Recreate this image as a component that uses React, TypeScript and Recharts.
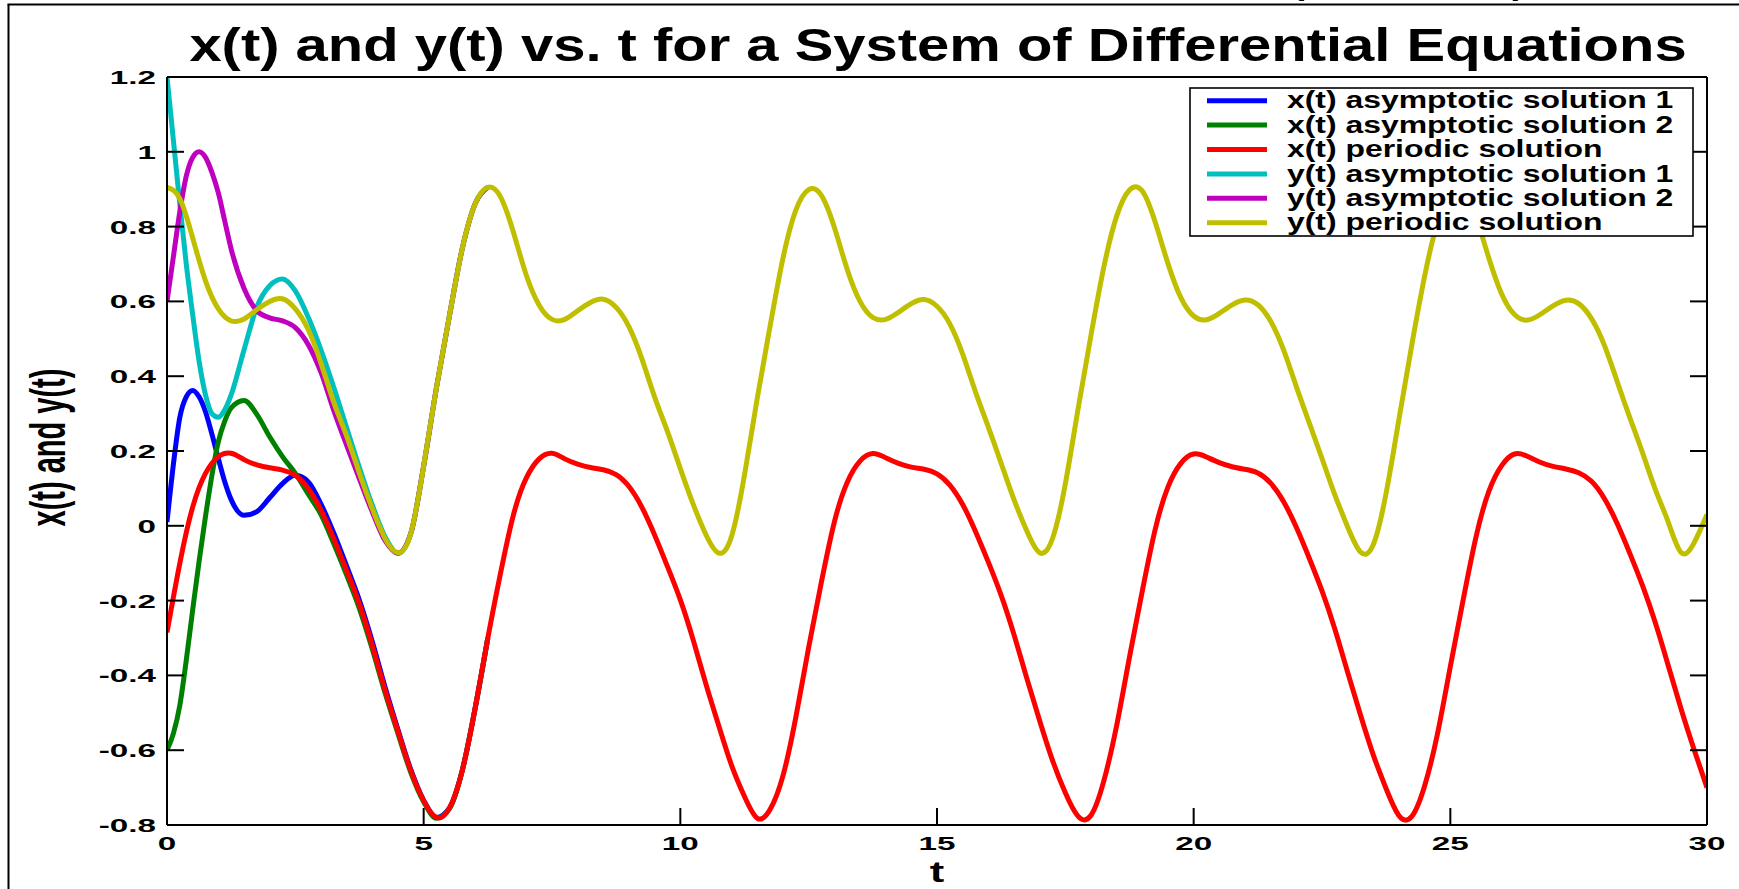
import React from 'react';
import { LineChart, Line, XAxis, YAxis, Legend } from 'recharts';

// ---------- data ----------
const T_PERIODIC = [
  0, 0.25, 0.5, 0.75, 1, 1.25, 1.5, 1.75, 2, 2.25, 2.5, 2.75, 3, 3.25, 3.5, 3.75, 4, 4.25, 4.5, 4.75, 5, 5.25, 5.5, 5.75, 6, 6.25,
  6.5, 6.75, 7, 7.25, 7.5, 7.75, 8, 8.25, 8.5, 8.75, 9, 9.25, 9.5, 9.75, 10, 10.25, 10.5, 10.75, 11, 11.25, 11.5, 11.75, 12, 12.25, 12.5,
  12.75, 13, 13.25, 13.5, 13.75, 14, 14.25, 14.5, 14.75, 15, 15.25, 15.5, 15.75, 16, 16.25, 16.5, 16.75, 17, 17.25, 17.5, 17.75, 18, 18.25, 18.5, 18.75,
  19, 19.25, 19.5, 19.75, 20, 20.25, 20.5, 20.75, 21, 21.25, 21.5, 21.75, 22, 22.25, 22.5, 22.75, 23, 23.25, 23.5, 23.75, 24, 24.25, 24.5, 24.75, 25,
  25.25, 25.5, 25.75, 26, 26.25, 26.5, 26.75, 27, 27.25, 27.5, 27.75, 28, 28.25, 28.5, 28.75, 29, 29.25, 29.5, 29.75, 30,
];

const X_PERIODIC = [
  -0.285, -0.1, 0.05, 0.14, 0.185, 0.194, 0.177, 0.163, 0.155, 0.149, 0.135, 0.1, 0.042, -0.035, -0.12, -0.21, -0.32, -0.44, -0.55, -0.655, -0.735, -0.78, -0.755, -0.655, -0.49, -0.3,
  -0.125, 0.03, 0.128, 0.179, 0.194, 0.179, 0.165, 0.156, 0.15, 0.137, 0.105, 0.05, -0.025, -0.109, -0.198, -0.305, -0.424, -0.535, -0.641, -0.724, -0.782, -0.758, -0.668, -0.512, -0.325,
  -0.149, 0.01, 0.116, 0.173, 0.193, 0.182, 0.167, 0.157, 0.151, 0.139, 0.109, 0.057, -0.015, -0.097, -0.186, -0.291, -0.408, -0.521, -0.627, -0.714, -0.777, -0.774, -0.682, -0.534, -0.351,
  -0.174, -0.01, 0.104, 0.167, 0.192, 0.184, 0.169, 0.158, 0.151, 0.141, 0.114, 0.065, -0.004, -0.086, -0.174, -0.276, -0.392, -0.506, -0.613, -0.703, -0.775, -0.777, -0.695, -0.556, -0.376,
  -0.198, -0.03, 0.092, 0.161, 0.192, 0.186, 0.17, 0.159, 0.152, 0.142, 0.119, 0.073, 0.006, -0.075, -0.162, -0.262, -0.376, -0.492, -0.599, -0.7,
];

const Y_PERIODIC = [
  0.905, 0.875, 0.77, 0.655, 0.58, 0.548, 0.553, 0.578, 0.6, 0.607, 0.58, 0.525, 0.435, 0.33, 0.24, 0.14, 0.045, -0.035, -0.072, -0.02, 0.16, 0.37, 0.56, 0.74, 0.86, 0.905,
  0.879, 0.784, 0.67, 0.59, 0.552, 0.552, 0.575, 0.597, 0.606, 0.584, 0.532, 0.447, 0.344, 0.252, 0.153, 0.058, -0.024, -0.073, -0.027, 0.136, 0.342, 0.535, 0.716, 0.844, 0.899,
  0.883, 0.798, 0.686, 0.6, 0.557, 0.552, 0.571, 0.594, 0.605, 0.587, 0.54, 0.459, 0.358, 0.264, 0.167, 0.07, -0.014, -0.072, -0.034, 0.112, 0.314, 0.51, 0.692, 0.828, 0.898,
  0.895, 0.812, 0.701, 0.61, 0.561, 0.551, 0.568, 0.591, 0.604, 0.591, 0.547, 0.471, 0.372, 0.276, 0.18, 0.083, -0.003, -0.07, -0.05, 0.088, 0.286, 0.484, 0.668, 0.812, 0.893,
  0.898, 0.826, 0.716, 0.62, 0.565, 0.55, 0.565, 0.588, 0.603, 0.594, 0.554, 0.483, 0.386, 0.288, 0.193, 0.095, 0.008, -0.072, -0.045, 0.03,
];

const T_ASYM = [
  0, 0.125, 0.25, 0.375, 0.5, 0.625, 0.75, 0.875, 1, 1.125, 1.25, 1.5, 1.75, 2, 2.25, 2.5, 2.75, 3, 3.25, 3.5, 3.75, 4, 4.25, 4.5, 4.75, 5, 5.25, 5.5, 5.75, 6, 6.25,
];

const X_ASYM_1 = [
  0.01, 0.165, 0.29, 0.345, 0.362, 0.345, 0.305, 0.245, 0.18, 0.118, 0.07, 0.028, 0.038, 0.075, 0.113, 0.135, 0.118, 0.058, -0.02, -0.108, -0.2, -0.31, -0.432, -0.545, -0.652, -0.734, -0.78, -0.755, -0.655, -0.49, -0.3,
];

const X_ASYM_2 = [
  -0.6, -0.555, -0.48, -0.36, -0.225, -0.095, 0.025, 0.135, 0.225, 0.28, 0.315, 0.335, 0.298, 0.238, 0.185, 0.14, 0.085, 0.03, -0.048, -0.132, -0.222, -0.33, -0.448, -0.556, -0.66, -0.738, -0.782, -0.757, -0.656, -0.49, -0.3,
];

const Y_ASYM_1 = [
  1.2, 1.03, 0.86, 0.7, 0.565, 0.44, 0.35, 0.3, 0.29, 0.31, 0.35, 0.47, 0.585, 0.642, 0.66, 0.628, 0.558, 0.47, 0.37, 0.262, 0.155, 0.055, -0.03, -0.074, -0.02, 0.16, 0.37, 0.56, 0.74, 0.86, 0.905,
];

const Y_ASYM_2 = [
  0.6, 0.72, 0.84, 0.935, 0.985, 1.0, 0.985, 0.945, 0.89, 0.815, 0.74, 0.635, 0.575, 0.556, 0.548, 0.53, 0.485, 0.41, 0.308, 0.215, 0.125, 0.037, -0.04, -0.073, -0.02, 0.16, 0.37, 0.56, 0.74, 0.86, 0.905,
];

const SERIES_NAMES = [
  'x(t) asymptotic solution 1',
  'x(t) asymptotic solution 2',
  'x(t) periodic solution',
  'y(t) asymptotic solution 1',
  'y(t) asymptotic solution 2',
  'y(t) periodic solution',
];
const SERIES_COLORS = ['#0000ff', '#008000', '#ff0000', '#00bfbf', '#bf00bf', '#bfbf00'];
const SERIES_CURVES = ['monotone', 'monotone', 'natural', 'monotone', 'monotone', 'natural'];

const X_TICKS = [0, 5, 10, 15, 20, 25, 30];
const Y_TICKS = [-0.8, -0.6, -0.4, -0.2, 0, 0.2, 0.4, 0.6, 0.8, 1, 1.2];

const TITLE = 'x(t) and y(t) vs. t for a System of Differential Equations';
const X_LABEL = 't';
const Y_LABEL = 'x(t) and y(t)';

// ---------- helpers ----------
const rows = (ts: number[], vs: number[]) => ts.map((t, i) => ({ t, v: vs[i] }));
const SERIES_DATA = [
  rows(T_ASYM, X_ASYM_1),
  rows(T_ASYM, X_ASYM_2),
  rows(T_PERIODIC, X_PERIODIC),
  rows(T_ASYM, Y_ASYM_1),
  rows(T_ASYM, Y_ASYM_2),
  rows(T_PERIODIC, Y_PERIODIC),
];

const FONT = '"Liberation Sans", Arial, Helvetica, sans-serif';
const TICK_LEN = 17;
const TICK_FONT = 19;
const TICK_STRETCH = 1.75;

const BottomTick = (props: any) => {
  const { x, y, payload } = props;
  return (
    <g>
      <line x1={x} y1={y} x2={x} y2={y - TICK_LEN} stroke="#000" strokeWidth={2} />
      <text
        transform={`translate(${x},${y + 25}) scale(${TICK_STRETCH},1)`}
        textAnchor="middle"
        fontFamily={FONT}
        fontWeight="bold"
        fontSize={TICK_FONT}
        fill="#000"
      >
        {String(payload.value)}
      </text>
    </g>
  );
};

const LeftTick = (props: any) => {
  const { x, y, payload } = props;
  return (
    <g>
      <line x1={x} y1={y} x2={x + TICK_LEN} y2={y} stroke="#000" strokeWidth={2} />
      <text
        transform={`translate(${x - 11},${y + 7}) scale(${TICK_STRETCH},1)`}
        textAnchor="end"
        fontFamily={FONT}
        fontWeight="bold"
        fontSize={TICK_FONT}
        fill="#000"
      >
        {String(payload.value)}
      </text>
    </g>
  );
};

const TopTick = (props: any) => {
  const { x, y } = props;
  return <line x1={x} y1={y} x2={x} y2={y + TICK_LEN} stroke="#000" strokeWidth={2} />;
};

const RightTick = (props: any) => {
  const { x, y } = props;
  return <line x1={x} y1={y} x2={x - TICK_LEN} y2={y} stroke="#000" strokeWidth={2} />;
};

const LEGEND_LEFT = 1189;
const LEGEND_TOP = 87;
const LEGEND_W = 505;
const LEGEND_H = 150;

const LegendBox = () => (
  <svg width={LEGEND_W} height={LEGEND_H} style={{ display: 'block' }}>
    <rect x={1} y={1} width={LEGEND_W - 2} height={LEGEND_H - 2} fill="#fff" stroke="#000" strokeWidth={1.6} />
    {SERIES_NAMES.map((name, i) => {
      const cy = 13.7 + 24.4 * i;
      return (
        <g key={name}>
          <line x1={18} y1={cy} x2={78} y2={cy} stroke={SERIES_COLORS[i]} strokeWidth={5} />
          <text
            transform={`translate(98,${cy + 7.6}) scale(1.33,1)`}
            fontFamily={FONT}
            fontWeight="bold"
            fontSize={24}
            fill="#000"
          >
            {name}
          </text>
        </g>
      );
    })}
  </svg>
);

export default function App() {
  return (
    <div style={{ position: 'absolute', left: 0, top: 0, width: 1739, height: 889, background: '#fff', overflow: 'hidden' }}>
      <LineChart width={1739} height={889} margin={{ top: 67, right: 22, bottom: 24, left: 107 }}>
        <XAxis
          xAxisId="b"
          dataKey="t"
          type="number"
          domain={[0, 30]}
          ticks={X_TICKS}
          interval={0}
          allowDataOverflow
          height={40}
          tickSize={0}
          tickMargin={0}
          tick={<BottomTick />}
          axisLine={{ stroke: '#000', strokeWidth: 2 }}
        />
        <XAxis
          xAxisId="top"
          orientation="top"
          type="number"
          domain={[0, 30]}
          ticks={X_TICKS}
          interval={0}
          allowDataOverflow
          height={10}
          tickSize={0}
          tickMargin={0}
          tick={<TopTick />}
          axisLine={{ stroke: '#000', strokeWidth: 2 }}
        />
        <YAxis
          yAxisId="l"
          type="number"
          domain={[-0.8, 1.2]}
          ticks={Y_TICKS}
          interval={0}
          allowDataOverflow
          width={60}
          tickSize={0}
          tickMargin={0}
          tick={<LeftTick />}
          axisLine={{ stroke: '#000', strokeWidth: 2 }}
        />
        <YAxis
          yAxisId="right"
          orientation="right"
          type="number"
          domain={[-0.8, 1.2]}
          ticks={Y_TICKS}
          interval={0}
          allowDataOverflow
          width={10}
          tickSize={0}
          tickMargin={0}
          tick={<RightTick />}
          axisLine={{ stroke: '#000', strokeWidth: 2 }}
        />
        {SERIES_NAMES.map((name, i) => (
          <Line
            key={name}
            name={name}
            data={SERIES_DATA[i]}
            dataKey="v"
            xAxisId="b"
            yAxisId="l"
            type={SERIES_CURVES[i] as any}
            stroke={SERIES_COLORS[i]}
            strokeWidth={5}
            dot={false}
            activeDot={false}
            isAnimationActive={false}
          />
        ))}
        <Legend
          layout="vertical"
          align="center"
          verticalAlign="middle"
          wrapperStyle={{ left: LEGEND_LEFT, top: LEGEND_TOP, width: LEGEND_W, height: LEGEND_H, bottom: 'auto', right: 'auto' }}
          content={() => <LegendBox />}
        />
      </LineChart>
      <svg
        width={1739}
        height={889}
        style={{ position: 'absolute', left: 0, top: 0, pointerEvents: 'none' }}
      >
        <line x1={8.5} y1={4.5} x2={8.5} y2={889} stroke="#000" strokeWidth={2} />
        <line x1={7.5} y1={4.5} x2={1739} y2={4.5} stroke="#000" strokeWidth={2} />
        <text transform="translate(1285,-9) scale(1.3,1)" fontFamily={FONT} fontSize={46} fill="#000">(</text>
        <text transform="translate(1512,-9) scale(1.3,1)" fontFamily={FONT} fontSize={46} fill="#000">)</text>
        <text
          transform="translate(938,61) scale(1.26,1)"
          textAnchor="middle"
          fontFamily={FONT}
          fontWeight="bold"
          fontSize={46}
          fill="#000"
        >
          {TITLE}
        </text>
        <text
          transform="translate(64.6,447.5) scale(1.7,1) rotate(-90)"
          textAnchor="middle"
          fontFamily={FONT}
          fontWeight="bold"
          fontSize={29}
          fill="#000"
        >
          {Y_LABEL}
        </text>
        <text
          transform="translate(937,882) scale(1.45,1)"
          textAnchor="middle"
          fontFamily={FONT}
          fontWeight="bold"
          fontSize={30}
          fill="#000"
        >
          {X_LABEL}
        </text>
      </svg>
    </div>
  );
}
